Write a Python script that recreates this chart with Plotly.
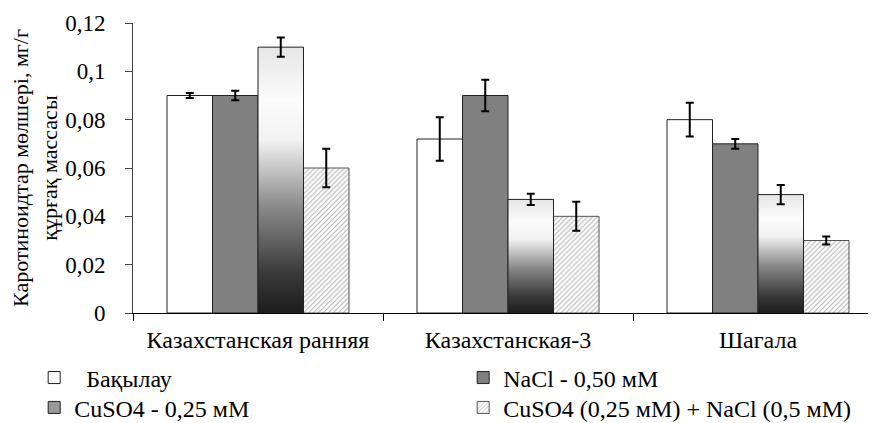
import plotly.graph_objects as go

categories = ["Казахстанская ранняя", "Казахстанская-3", "Шагала"]
series_names = ["  Бақылау", "NaCl - 0,50 мМ", "CuSO4 - 0,25 мМ", "CuSO4 (0,25 мМ) + NaCl (0,5 мМ)"]
control = [0.090, 0.072, 0.080]
control_err = [0.001, 0.009, 0.007]
nacl = [0.090, 0.090, 0.070]
nacl_err = [0.002, 0.0065, 0.002]
cuso4 = [0.110, 0.047, 0.049]
cuso4_err = [0.004, 0.0023, 0.004]
mix = [0.060, 0.040, 0.030]
mix_err = [0.008, 0.006, 0.0017]
y_ticks = [0, 0.02, 0.04, 0.06, 0.08, 0.1, 0.12]

FONT = "Liberation Serif, DejaVu Serif, serif"
W = 0.182  # bar width in category units
idx = list(range(len(categories)))


def pos(j):
    return [i + (j - 1.5) * W for i in idx]


err_style = dict(type="data", thickness=2, width=4, color="black")

fig = go.Figure()

fig.add_trace(go.Bar(
    x=pos(0), y=control, width=W, name=series_names[0], legend="legend",
    marker=dict(color="white", line=dict(color="#222", width=1)),
    error_y=dict(array=control_err, **err_style),
))
fig.add_trace(go.Bar(
    x=pos(1), y=nacl, width=W, name=series_names[1], legend="legend",
    marker=dict(color="#808080", line=dict(color="#222", width=1)),
    error_y=dict(array=nacl_err, **err_style),
))
fig.add_trace(go.Bar(
    x=[None], y=[None], name=series_names[2], legend="legend2",
    marker=dict(color="#9a9a9a", line=dict(color="#222", width=1)),
))
fig.add_trace(go.Bar(
    x=pos(3), y=mix, width=W, name=series_names[3], legend="legend2",
    marker=dict(color="white", line=dict(color="#555", width=1),
                pattern=dict(shape="/", fgcolor="#666", bgcolor="white",
                             size=3.5, solidity=0.3)),
    error_y=dict(array=mix_err, **err_style),
))

grad_scale = [[0, "#1c1c1c"], [0.15, "#3a3a3a"], [0.4, "#8a8a8a"],
              [0.65, "#f2f2f2"], [0.8, "#fcfcfc"], [1, "#e6e6e6"]]
for xc, v in zip(pos(2), cuso4):
    x0, x1 = xc - W / 2, xc + W / 2
    fig.add_trace(go.Scatter(
        x=[x0, x1, x1, x0, x0], y=[0, 0, v, v, 0],
        mode="lines", fill="toself",
        line=dict(color="#222", width=1),
        fillgradient=dict(type="vertical", colorscale=grad_scale, start=0, stop=v),
        showlegend=False, hoverinfo="skip",
    ))
fig.add_trace(go.Scatter(
    x=pos(2), y=cuso4, mode="markers", marker=dict(size=1, color="rgba(0,0,0,0)"),
    error_y=dict(array=cuso4_err, **err_style), showlegend=False,
))

leg_common = dict(orientation="h", xanchor="left", yanchor="middle",
                  entrywidth=384, font=dict(family=FONT, size=24, color="black"),
                  itemwidth=30, bgcolor="rgba(0,0,0,0)")
# page body has an 8px margin, so the figure is 8px smaller on each axis
fig.update_layout(
    width=868, height=415,
    margin=dict(l=125, r=0, t=15, b=110, autoexpand=False),
    paper_bgcolor="white", plot_bgcolor="white",
    barmode="overlay",
    separators=", ",
    font=dict(family=FONT, size=23, color="black"),
    showlegend=True,
    legend=dict(x=-0.133, y=-0.224, **leg_common),
    legend2=dict(x=-0.133, y=-0.327, **leg_common),
)
fig.update_xaxes(
    range=[-0.5, 2.472], tickvals=idx, ticktext=categories,
    showline=True, linecolor="black", linewidth=1, ticks="",
    showgrid=False, zeroline=False,
    minor=dict(tickvals=[-0.5, 0.5, 1.5], ticks="outside", ticklen=7,
               tickcolor="black", showgrid=False),
    tickfont=dict(family=FONT, size=24, color="black"), ticklabelstandoff=5,
)
fig.update_yaxes(
    range=[0, 0.12], tickvals=y_ticks,
    showline=True, linecolor="#444", linewidth=1, ticks="outside", ticklen=7,
    tickcolor="#444", showgrid=False, zeroline=False,
    tickfont=dict(family=FONT, size=23, color="black"), ticklabelstandoff=15,
    title=dict(text="Каротиноидтар мөлшері, мг/г<br>құрғақ массасы",
               font=dict(family=FONT, size=22, color="black"), standoff=2),
)

fig.write_html("out.html")
